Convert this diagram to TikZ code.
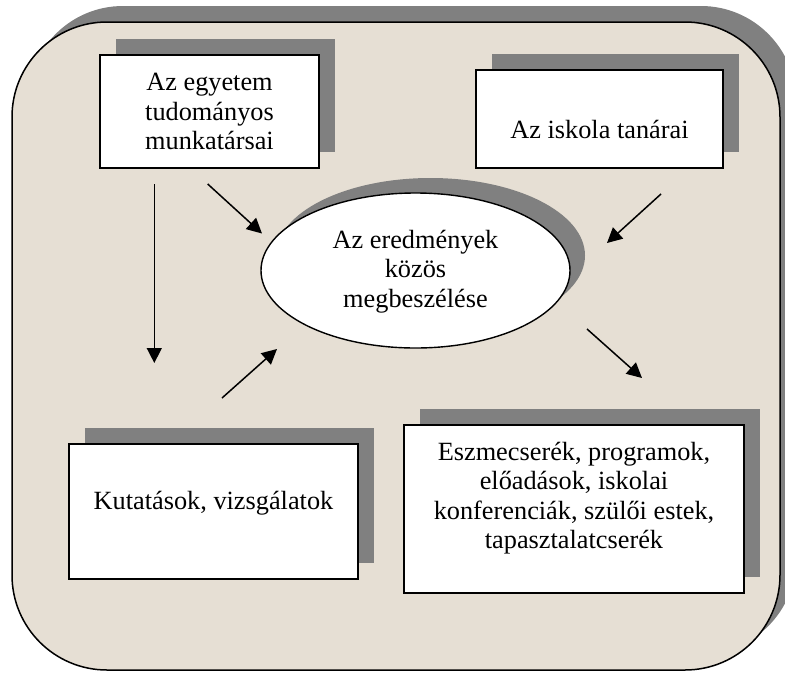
\documentclass[tikz,border=0pt]{standalone}
\usepackage{fontspec}
\setmainfont{Liberation Serif}
\usetikzlibrary{arrows.meta,shapes.geometric,shadows}
\definecolor{bgbeige}{RGB}{230,223,212}
\definecolor{shadowgray}{RGB}{128,128,128}
\tikzset{
  boxshape/.style={draw=black, line width=1.6pt, fill=white, rectangle, inner sep=0pt,
    drop shadow={shadow xshift=16pt, shadow yshift=16pt, fill=shadowgray, opacity=1}},
  ovalshape/.style={draw=black, line width=1.4pt, fill=white, ellipse, inner sep=0pt,
    drop shadow={shadow xshift=15pt, shadow yshift=15pt, fill=shadowgray, opacity=1}},
  lbl/.style={align=center, inner sep=0pt, font=\fontsize{26.3}{29.5}\selectfont},
  arr/.style={line width=1.5pt, -{Triangle[length=15pt,width=15pt]}}
}
\begin{document}
\begin{tikzpicture}[x=1pt,y=-1pt]
\useasboundingbox (0,0) rectangle (785,673);
\clip (0,0) rectangle (785,673);
% outer frame with shadow
\fill[shadowgray, rounded corners=95pt] (28,6) rectangle (796,654);
\draw[fill=bgbeige, line width=1.5pt, rounded corners=95pt] (12,22) rectangle (780,670);

% boxes
\node[boxshape, minimum width=219pt, minimum height=113pt] (b1) at (209.5,111.5) {};
\node[lbl] at (b1.center) {Az egyetem\\tudományos\\munkatársai};

\node[boxshape, minimum width=247pt, minimum height=98pt] (b2) at (599.5,119) {};
\node[lbl] at ([yshift=-10pt]b2.center) {Az iskola tanárai};

\node[boxshape, minimum width=340pt, minimum height=168pt] (b3) at (574,509) {};
\node[lbl] at ([yshift=11pt]b3.center) {Eszmecserék, programok,\\előadások, iskolai\\konferenciák, szülői estek,\\tapasztalatcserék};

\node[boxshape, minimum width=289pt, minimum height=135pt] (b4) at (213.5,511.5) {};
\node[lbl] at ([yshift=8pt]b4.center) {Kutatások, vizsgálatok};

\node[ovalshape, minimum width=309pt, minimum height=155pt] (e) at (415.5,270.5) {};
\node[lbl] at ([yshift=-1pt]e.center) {Az eredmények\\közös\\megbeszélése};

% arrow end points
\coordinate (a1s) at (154.3,184);
\coordinate (a1e) at (154.3,363);
\coordinate (a2s) at (207.7,184);
\coordinate (a2e) at (262,233.5);
\coordinate (a3s) at (661,194);
\coordinate (a3e) at (607,243);
\coordinate (a4s) at (222,398);
\coordinate (a4e) at (277,349);
\coordinate (a5s) at (587,329);
\coordinate (a5e) at (642,378);

\draw[arr] (a1s) -- (a1e);
\draw[arr] (a2s) -- (a2e);
\draw[arr] (a3s) -- (a3e);
\draw[arr] (a4s) -- (a4e);
\draw[arr] (a5s) -- (a5e);
\end{tikzpicture}
\end{document}
